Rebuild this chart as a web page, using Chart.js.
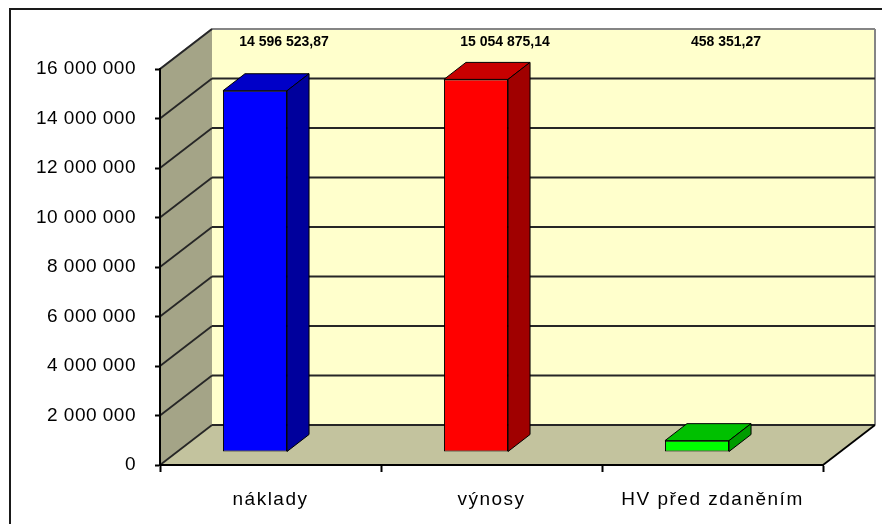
<!DOCTYPE html>
<html>
<head>
<meta charset="utf-8">
<script src="https://cdn.jsdelivr.net/npm/chart.js@4.4.0/dist/chart.umd.min.js"></script>
<style>
  html, body { margin: 0; padding: 0; background: #fff; }
  canvas { display: block; }
</style>
</head>
<body>
<canvas id="chart" width="882" height="524"></canvas>
<script>
/* ---------- DATA ---------- */
const categories = ["náklady", "výnosy", "HV před zdaněním"];
const values = [14596523.87, 15054875.14, 458351.27];
const frontColors = ["#0000ff", "#ff0000", "#00ff00"];
const topColors = ["#0000c8", "#c80000", "#00c000"];
const sideColors = ["#00009c", "#a00000", "#009c00"];
const Y_MAX = 16000000;
const Y_STEP = 2000000;

/* ---------- 3D LOOK ---------- */
const DEPTH = { x: 52, y: -40 };      // depth of the wall box
const BAR_DEPTH = { x: 22, y: -17 };  // depth of each column
const BAR_SHIFT = { x: -15.5, y: -13 };

function fmt(v, dec) {
  const parts = v.toFixed(dec).split(".");
  const int = parts[0].replace(/\B(?=(\d{3})+(?!\d))/g, " ");
  return parts[1] ? int + "," + parts[1] : int;
}

function poly(ctx, pts) {
  ctx.beginPath();
  ctx.moveTo(pts[0][0], pts[0][1]);
  for (let i = 1; i < pts.length; i++) ctx.lineTo(pts[i][0], pts[i][1]);
  ctx.closePath();
}

function line(ctx, x1, y1, x2, y2) {
  ctx.beginPath();
  ctx.moveTo(x1, y1);
  ctx.lineTo(x2, y2);
  ctx.stroke();
}

const box3d = {
  id: "box3d",
  afterLayout(chart) {
    // Excel-like wide letter spacing on axis labels
    [["x", "1.5px"], ["y", "0.5px"]].forEach(([id, sp]) => {
      const s = chart.scales[id];
      if (s._spaced) return;
      const orig = s.drawLabels;
      s.drawLabels = function (area) {
        const prev = this.ctx.letterSpacing;
        this.ctx.letterSpacing = sp;
        orig.call(this, area);
        this.ctx.letterSpacing = prev;
      };
      s._spaced = true;
    });
  },
  beforeDraw(chart) {
    const { ctx, chartArea: a } = chart;
    const y = chart.scales.y;
    const bx = a.left + DEPTH.x, by = a.top + DEPTH.y;
    const bb = a.bottom + DEPTH.y, br = a.right + DEPTH.x;
    ctx.save();

    // outer frame
    ctx.strokeStyle = "#1a1a1a";
    ctx.lineWidth = 2;
    ctx.strokeRect(10, 9, 900, 600);

    // back wall
    ctx.fillStyle = "#ffffcc";
    ctx.fillRect(bx, by, br - bx, bb - by);
    // side wall
    ctx.fillStyle = "#a4a487";
    poly(ctx, [[a.left, a.top], [bx, by], [bx, bb], [a.left, a.bottom]]);
    ctx.fill();
    // floor
    ctx.fillStyle = "#c3c39e";
    poly(ctx, [[a.left, a.bottom], [bx, bb], [br, bb], [a.right, a.bottom]]);
    ctx.fill();

    // wall edges
    ctx.strokeStyle = "#858585";
    ctx.lineWidth = 2;
    line(ctx, bx, by, br, by);
    line(ctx, br, by, br, bb);
    line(ctx, a.left, a.top, bx, by);

    // gridlines
    ctx.strokeStyle = "#262626";
    ctx.lineWidth = 1.8;
    for (let v = 0; v <= Y_MAX; v += Y_STEP) {
      const py = y.getPixelForValue(v);
      line(ctx, a.left, py, bx, py + DEPTH.y);
      if (v < Y_MAX) line(ctx, bx, py + DEPTH.y, br, py + DEPTH.y);
    }
    ctx.strokeStyle = "#000";
    line(ctx, a.right, a.bottom, br, bb);
    ctx.restore();
  },
  beforeDatasetsDraw(chart) {
    chart.ctx.save();
    chart.ctx.translate(BAR_SHIFT.x, BAR_SHIFT.y);
  },
  afterDatasetsDraw(chart) {
    const ctx = chart.ctx;
    const bars = chart.getDatasetMeta(0).data;
    ctx.lineWidth = 1;
    ctx.strokeStyle = "#000";
    ctx.lineJoin = "round";
    bars.forEach((bar, i) => {
      const { x, y, base, width } = bar.getProps(["x", "y", "base", "width"], true);
      const l = x - width / 2, r = x + width / 2;
      ctx.fillStyle = topColors[i];
      poly(ctx, [[l, y], [l + BAR_DEPTH.x, y + BAR_DEPTH.y], [r + BAR_DEPTH.x, y + BAR_DEPTH.y], [r, y]]);
      ctx.fill();
      ctx.stroke();
      ctx.fillStyle = sideColors[i];
      poly(ctx, [[r, y], [r + BAR_DEPTH.x, y + BAR_DEPTH.y], [r + BAR_DEPTH.x, base + BAR_DEPTH.y], [r, base]]);
      ctx.fill();
      ctx.stroke();
    });
    ctx.restore();

    // value labels along the top of the back wall
    const a = chart.chartArea;
    ctx.save();
    ctx.font = "bold 14px 'Liberation Sans', Arial, sans-serif";
    ctx.fillStyle = "#000";
    ctx.textAlign = "center";
    ctx.textBaseline = "middle";
    bars.forEach((bar, i) => {
      ctx.fillText(fmt(values[i], 2), bar.x + BAR_SHIFT.x + 29, a.top - 27);
    });
    ctx.restore();
  }
};

/* ---------- CHART ---------- */
Chart.defaults.font.family = "'Liberation Sans', Arial, sans-serif";
Chart.defaults.color = "#000";

new Chart(document.getElementById("chart").getContext("2d"), {
  type: "bar",
  data: {
    labels: categories,
    datasets: [{
      data: values,
      backgroundColor: frontColors,
      borderColor: "#000",
      borderWidth: 1,
      borderSkipped: false,
      categoryPercentage: 1,
      barPercentage: 0.29
    }]
  },
  options: {
    responsive: false,
    animation: false,
    devicePixelRatio: 1,
    layout: { padding: { top: 69, right: 59, left: 0, bottom: 0 } },
    plugins: { legend: { display: false }, tooltip: { enabled: false } },
    scales: {
      x: {
        offset: true,
        grid: { drawOnChartArea: false, offset: true, tickLength: 7, tickWidth: 2, tickColor: "#000" },
        border: { color: "#000", width: 2 },
        ticks: { font: { size: 19 }, padding: 16, maxRotation: 0, autoSkip: false },
        afterFit(s) { s.height = 59; }
      },
      y: {
        min: 0,
        max: Y_MAX,
        grid: { drawOnChartArea: false, tickLength: 5, tickWidth: 2, tickColor: "#000" },
        border: { color: "#000", width: 2 },
        ticks: { stepSize: Y_STEP, font: { size: 19 }, padding: 19, callback: v => fmt(v, 0) },
        afterFit(s) { s.width = 160; }
      }
    }
  },
  plugins: [box3d]
});
</script>
</body>
</html>
